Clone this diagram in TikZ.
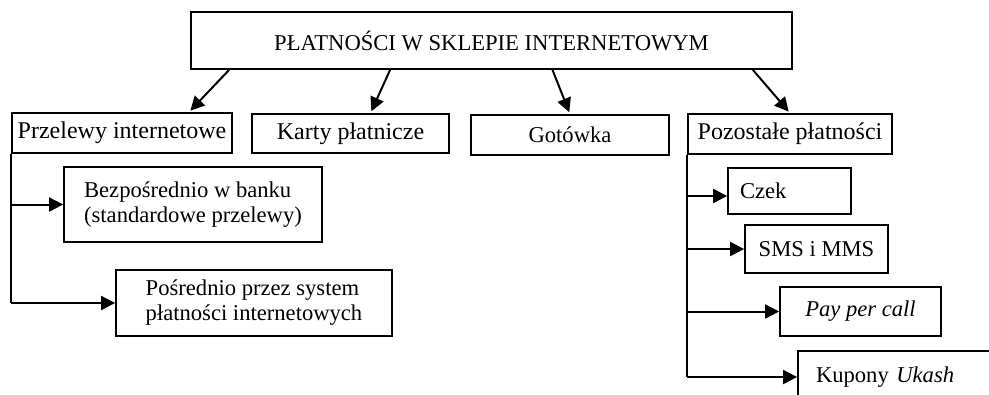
\documentclass[tikz,border=0pt]{standalone}
\usepackage{fontspec}
\setmainfont{Liberation Serif}
\usetikzlibrary{arrows.meta,calc}
\begin{document}
\begin{tikzpicture}[y=1pt, x=1pt, yscale=-1.000000, xscale=1.000000,
  box/.style={draw=black, line width=1.8pt, rectangle, inner sep=0pt, align=center, font=\fontsize{22.6}{25}\selectfont},
  bigbox/.style={box, font=\fontsize{24}{28}\selectfont},
  link/.style={draw=black, line width=2pt, line join=miter, -{Triangle[length=14pt,width=14pt]}},
  rail/.style={draw=black, line width=2pt, line join=miter}]
\useasboundingbox (0,0) rectangle (989,394);
  % top
  \node[box, minimum width=601pt, minimum height=57pt] (title) at (491.5,40.5) {PŁATNOŚCI W SKLEPIE INTERNETOWYM};
  % main groups
  \node[bigbox, minimum width=220pt, minimum height=40pt] (przelewy) at (122,133) {Przelewy internetowe};
  \node[bigbox, minimum width=197pt, minimum height=39pt] (karty) at (350.5,133.5) {Karty płatnicze};
  \node[box, minimum width=198pt, minimum height=40pt] (gotowka) at (570,135) {Gotówka};
  \node[bigbox, minimum width=204pt, minimum height=40pt] (pozostale) at (790,134) {Pozostałe płatności};
  % transfers
  \node[box, align=left, minimum width=258pt, minimum height=75pt] (bezposrednio) at (193,204.5) {Bezpośrednio w banku\\(standardowe przelewy)};
  \node[box, align=left, minimum width=276pt, minimum height=66pt] (posrednio) at (254,303) {Pośrednio przez system\\płatności internetowych};
  % other payments
  \node[box, align=left, text width=99pt, inner xsep=12pt, minimum height=46pt] (czek) at (789.5,191) {Czek};
  \node[box, minimum width=143pt, minimum height=48pt] (sms) at (816.5,249) {SMS i MMS};
  \node[box, minimum width=161pt, minimum height=49pt] (paypercall) at (860.5,311.5) {\textit{Pay per call}};
  \node[box, align=left, text width=164pt, inner xsep=18pt, minimum height=52pt] (kupony) at (898,377) {Kupony \textit{Ukash}};
  % arrows from the top box
  \path[link, shorten >=2pt] ($(title.south west)+(39,0)$) -- ($(przelewy.north)+(67,0)$);
  \path[link, shorten >=2pt] ($(title.south west)+(200,0)$) -- ($(karty.north)+(20,0)$);
  \path[link, shorten >=2pt] ($(title.south)+(61,0)$) -- (gotowka.north);
  \path[link, shorten >=2pt] ($(title.south east)+(-40,0)$) -- (pozostale.north);
  % left branch
  \path[rail] (przelewy.south west) -- (posrednio.west -| przelewy.west);
  \path[link] (bezposrednio.west -| przelewy.west) -- (bezposrednio.west);
  \path[link] (posrednio.west -| przelewy.west) -- (posrednio.west);
  % right branch
  \path[rail] (pozostale.south west) -- (kupony.west -| pozostale.west);
  \path[link] ($(czek.west)+(0,5)$) ++(-39,0) -- ($(czek.west)+(0,5)$);
  \path[link] (sms.west -| pozostale.west) -- (sms.west);
  \path[link] (paypercall.west -| pozostale.west) -- (paypercall.west);
  \path[link] (kupony.west -| pozostale.west) -- (kupony.west);
\end{tikzpicture}
\end{document}
